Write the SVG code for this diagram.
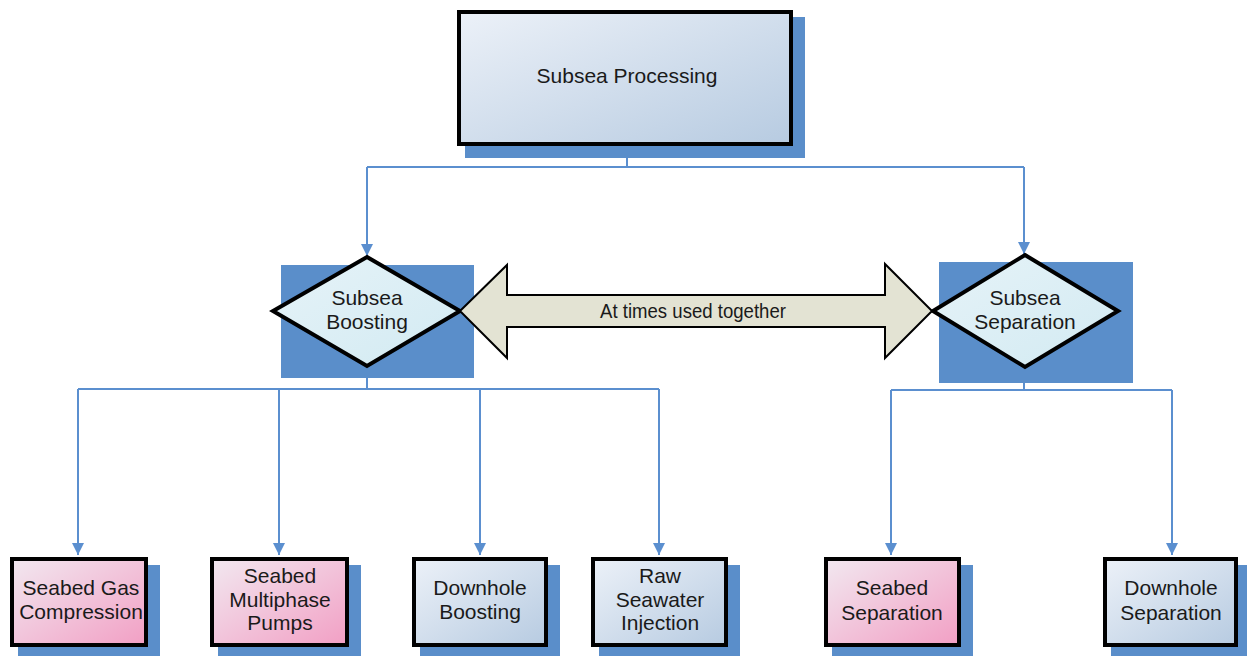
<svg xmlns="http://www.w3.org/2000/svg" width="1247" height="656" viewBox="0 0 1247 656">
<defs>
<linearGradient id="gBlue" x1="0" y1="0" x2="1" y2="1"><stop offset="0" stop-color="#ecf1f8"/><stop offset="1" stop-color="#b7cbe1"/></linearGradient>
<linearGradient id="gPink" x1="0" y1="0" x2="1" y2="1"><stop offset="0" stop-color="#f2e8f0"/><stop offset="1" stop-color="#f29fc4"/></linearGradient>
<linearGradient id="gDia" x1="0" y1="0" x2="1" y2="1"><stop offset="0" stop-color="#e6f3f8"/><stop offset="1" stop-color="#d2eaf2"/></linearGradient>
<marker id="arr" viewBox="0 0 10 10" refX="10" refY="5" markerWidth="12" markerHeight="12" markerUnits="userSpaceOnUse" orient="auto"><path d="M0,0 L10,5 L0,10 z" fill="#5b8fcf"/></marker>
</defs>
<style>
.sh{fill:#5a8eca}
.box{stroke:#000;stroke-width:4}
.dia{fill:url(#gDia);stroke:#000;stroke-width:4;stroke-linejoin:miter}
.t{font-family:"Liberation Sans",Arial,sans-serif;font-size:21px;fill:#1a1a1a;text-anchor:middle}
.c{fill:none;stroke:#5b8fcf;stroke-width:2}
</style>
<g id="connectors">
<path class="c" d="M627,146 V167 M367,167 H1024"/>
<path class="c" d="M367,167 V256" marker-end="url(#arr)"/>
<path class="c" d="M1024,167 V254" marker-end="url(#arr)"/>
<path class="c" d="M367,366 V389 M78,389 H659"/>
<path class="c" d="M78,389 V555" marker-end="url(#arr)"/>
<path class="c" d="M279,389 V555" marker-end="url(#arr)"/>
<path class="c" d="M480,389 V555" marker-end="url(#arr)"/>
<path class="c" d="M659,389 V555" marker-end="url(#arr)"/>
<path class="c" d="M1024,368 V390 M891,390 H1172"/>
<path class="c" d="M891,390 V555" marker-end="url(#arr)"/>
<path class="c" d="M1172,390 V555" marker-end="url(#arr)"/>
</g>
<g id="n-processing">
<rect class="sh" x="465" y="17" width="340" height="141"/>
<rect class="box" x="459" y="12" width="332" height="132" fill="url(#gBlue)"/>
<text class="t" x="627" y="83">Subsea Processing</text>
</g>
<g id="n-boosting">
<rect class="sh" x="281" y="265" width="193" height="113"/>
<path class="dia" d="M367,257 L460,311 L367,366 L273,311 Z"/>
<text class="t" x="367" y="305">Subsea</text>
<text class="t" x="367" y="329">Boosting</text>
</g>
<g id="n-separation">
<rect class="sh" x="939" y="262" width="194" height="121"/>
<path class="dia" d="M1025,255 L1118,311 L1025,367 L933,311 Z"/>
<text class="t" x="1025" y="305">Subsea</text>
<text class="t" x="1025" y="329">Separation</text>
</g>
<g id="n-together">
<path d="M460,311 L507,265 V295 H885 V264 L932,311 L885,358 V327 H507 V358 Z" fill="#e3e3d3" stroke="#000" stroke-width="2" stroke-linejoin="miter"/>
<text class="t" x="693" y="318" font-size="19" textLength="186" lengthAdjust="spacingAndGlyphs">At times used together</text>
</g>
<g id="n-gas">
<rect class="sh" x="18" y="565" width="142" height="95"/>
<rect class="box" x="12" y="559" width="134" height="86" fill="url(#gPink)"/>
<text class="t" x="81" y="595">Seabed Gas</text>
<text class="t" x="81" y="619">Compression</text>
</g>
<g id="n-pumps">
<rect class="sh" x="218" y="565" width="143" height="95"/>
<rect class="box" x="212" y="559" width="135" height="86" fill="url(#gPink)"/>
<text class="t" x="280" y="583">Seabed</text>
<text class="t" x="280" y="607">Multiphase</text>
<text class="t" x="280" y="630">Pumps</text>
</g>
<g id="n-dhboost">
<rect class="sh" x="420" y="565" width="140" height="95"/>
<rect class="box" x="414" y="559" width="132" height="86" fill="url(#gBlue)"/>
<text class="t" x="480" y="595">Downhole</text>
<text class="t" x="480" y="619">Boosting</text>
</g>
<g id="n-raw">
<rect class="sh" x="599" y="565" width="141" height="95"/>
<rect class="box" x="593" y="559" width="133" height="86" fill="url(#gBlue)"/>
<text class="t" x="660" y="583">Raw</text>
<text class="t" x="660" y="607">Seawater</text>
<text class="t" x="660" y="630">Injection</text>
</g>
<g id="n-seabedsep">
<rect class="sh" x="832" y="565" width="141" height="95"/>
<rect class="box" x="826" y="559" width="133" height="86" fill="url(#gPink)"/>
<text class="t" x="892" y="595">Seabed</text>
<text class="t" x="892" y="620">Separation</text>
</g>
<g id="n-dhsep">
<rect class="sh" x="1111" y="565" width="139" height="95"/>
<rect class="box" x="1105" y="559" width="131" height="86" fill="url(#gBlue)"/>
<text class="t" x="1171" y="595">Downhole</text>
<text class="t" x="1171" y="620">Separation</text>
</g>
</svg>
